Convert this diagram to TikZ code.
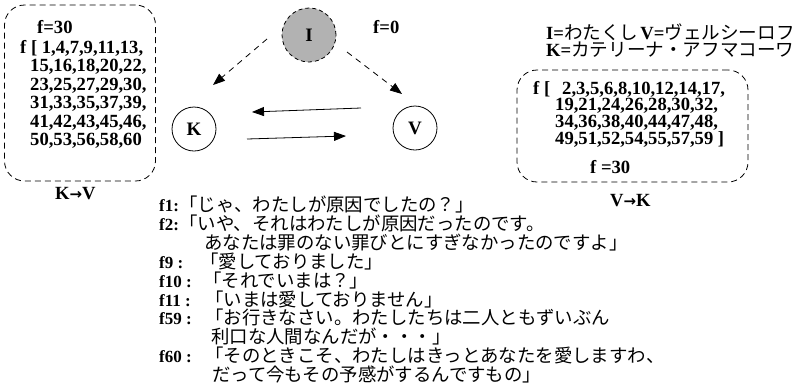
\documentclass[tikz,border=0pt]{standalone}
\usepackage{fontspec}
\setmainfont{Liberation Serif}
\newfontfamily\jp{Noto Sans CJK JP}
\newfontfamily\arrfont{DejaVu Sans}
\newcommand\rarr{{\arrfont\bfseries\fontsize{15}{15}\selectfont →}}
\newcommand\lgj[1]{{\jp\mdseries\fontsize{18.6}{19}\selectfont #1}}
\usetikzlibrary{arrows.meta}
\begin{document}
\begin{tikzpicture}[x=1pt,y=-1pt,
  lat/.style={font=\fontsize{17}{18}\selectfont\bfseries, inner sep=0pt, anchor=base west},
  leg/.style={font=\fontsize{18.6}{19}\selectfont\bfseries, inner sep=0pt, anchor=base west},
  boxt/.style={font=\fontsize{18.6}{18}\selectfont\bfseries, inner sep=0pt, anchor=base west},
  jpt/.style={font=\fontsize{18.4}{18}\selectfont\jp, inner sep=0pt, anchor=base west},
  dbox/.style={draw, dashed, dash pattern=on 6pt off 4pt, rounded corners=20pt, line width=0.8pt, inner sep=0pt},
  circ/.style={draw, circle, line width=0.8pt, inner sep=0pt, font=\fontsize{19}{19}\selectfont\bfseries},
  darr/.style={-{Triangle[length=12pt,width=9pt]}, dash pattern=on 6pt off 5pt, line width=0.8pt},
  sarr/.style={-{Triangle[length=12pt,width=9pt]}, line width=0.8pt}
]
\fill[white] (0,0) rectangle (800,384);
\useasboundingbox (0,0) rectangle (800,384);

% left box
\node[dbox, minimum width=151pt, minimum height=176pt] (kvbox) at (80,93) {};
\node[boxt] (kvf) at (37,33) {f=30};
\node[boxt] (kv1) at (20,53) {f [ 1,4,7,9,11,13,};
\node[boxt] (kv2) at (30,71.5) {15,16,18,20,22,};
\node[boxt] (kv3) at (30,90) {23,25,27,29,30,};
\node[boxt] (kv4) at (30,108.5) {31,33,35,37,39,};
\node[boxt] (kv5) at (30,127) {41,42,43,45,46,};
\node[boxt] (kv6) at (30,145.5) {50,53,56,58,60};
\node[boxt] (kvl) at (55,199) {K\rarr V};

% nodes
\node[circ, dashed, dash pattern=on 4pt off 3pt, fill=black!30, minimum size=54pt] (I) at (309,35) {I};
\node[boxt] (f0) at (373,33) {f=0};
\node[circ, minimum size=44pt] (K) at (194,129) {K};
\node[circ, minimum size=44pt] (V) at (415,128) {V};

\coordinate (ik1) at (267,39);
\coordinate (ik2) at (213,85);
\coordinate (iv1) at (347,52);
\coordinate (iv2) at (402,94);
\coordinate (vk1) at (361,108);
\coordinate (vk2) at (252,112);
\coordinate (kv1c) at (247,139);
\coordinate (kv2c) at (346,136);
\draw[darr] (ik1) -- (ik2);
\draw[darr] (iv1) -- (iv2);
\draw[sarr] (vk1) -- (vk2);
\draw[sarr] (kv1c) -- (kv2c);

% legend
\node[leg] (leg1) at (546,39.5) {I=\lgj{わたくし}\hspace{2pt}V=\lgj{ヴェルシーロフ}};
\node[leg] (leg2) at (546,56.5) {K=\lgj{カテリーナ・アフマコーワ}};

% right box
\node[dbox, minimum width=231pt, minimum height=112pt] (vkbox) at (632.5,126) {};
\node[boxt] (vk1t) at (533,94) {f [\hspace{12pt}2,3,5,6,8,10,12,14,17,};
\node[boxt] (vk2t) at (555,110.7) {19,21,24,26,28,30,32,};
\node[boxt] (vk3t) at (555,127.4) {34,36,38,40,44,47,48,};
\node[boxt] (vk4t) at (555,144.1) {49,51,52,54,55,57,59 ]};
\node[boxt] (vkf) at (590,173) {f =30};
\node[boxt] (vkl) at (610,206) {V\rarr K};

% dialogue
\node[lat] (l1) at (159,211.5) {f1:};
\node[jpt] (t1) at (179,211.5) {「じゃ、わたしが原因でしたの？」};
\node[lat] (l2) at (159,230.4) {f2:};
\node[jpt] (t2) at (179,230.4) {「いや、それはわたしが原因だったのです。};
\node[jpt] (t2b) at (204,249.3) {あなたは罪のない罪びとにすぎなかったのですよ」};
\node[lat] (l9) at (159,268.2) {f9 :};
\node[jpt] (t9) at (200,268.2) {「愛しておりました」};
\node[lat] (l10) at (159,287.1) {f10 :};
\node[jpt] (t10) at (203,287.1) {「それでいまは？」};
\node[lat] (l11) at (159,306) {f11 :};
\node[jpt] (t11) at (205,306) {「いまは愛しておりません」};
\node[lat] (l59) at (159,324.9) {f59 :};
\node[jpt] (t59) at (205,324.9) {「お行きなさい。わたしたちは二人ともずいぶん};
\node[jpt] (t59b) at (211,343.8) {利口な人間なんだが・・・」};
\node[lat] (l60) at (159,362.7) {f60 :};
\node[jpt] (t60) at (205,362.7) {「そのときこそ、わたしはきっとあなたを愛しますわ、};
\node[jpt] (t60b) at (212,381.3) {だって今もその予感がするんですもの」};
\end{tikzpicture}
\end{document}
